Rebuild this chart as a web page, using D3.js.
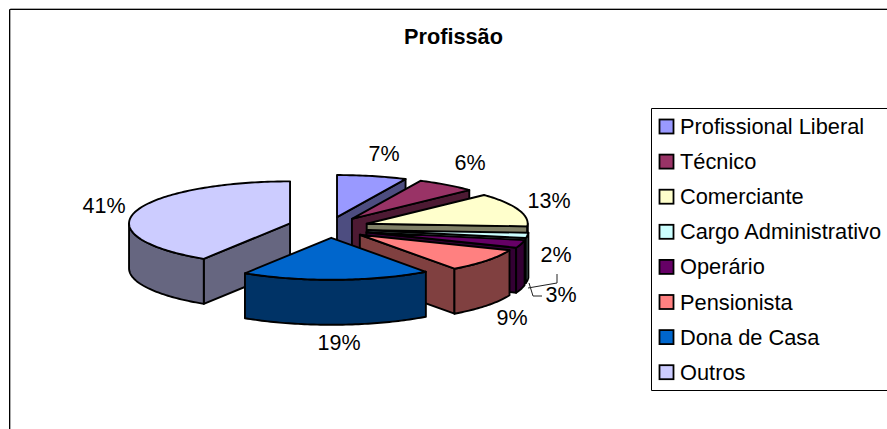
<!DOCTYPE html>
<html><head><meta charset="utf-8">
<script src="https://cdn.jsdelivr.net/npm/d3@7"></script>
<style>html,body{margin:0;padding:0;background:#fff}svg{display:block}text{font-family:"Liberation Sans",Arial,sans-serif;fill:#000}</style>
</head><body><script>
const categories=["Profissional Liberal","Técnico","Comerciante","Cargo Administrativo","Operário","Pensionista","Dona de Casa","Outros"];
const values=[7,6,13,2,3,9,19,41];
const topColors=["#9999FF","#993366","#FFFFCC","#CCFFFF","#660066","#FF8080","#0066CC","#CCCCFF"];
const title="Profissão";

const W=887,H=429,rx=161,ry=42,depth=45,cx=329,cy=227.3,ex=39,ey=10.5;
const nudgeY=[0,0,0,1.5,2,1,0,-1];
const nudgeX=[-0.5,0,1,0,0,0,1,-1.5];
const svg=d3.select("body").append("svg").attr("width",W).attr("height",H);
svg.append("rect").attr("width",W).attr("height",H).attr("fill","#fff");
svg.append("path").attr("d","M10.5,429V8.5H887").attr("fill","none").attr("stroke","#aaa");
svg.append("path").attr("d","M9.5,429V9.5H887").attr("fill","none").attr("stroke","#000");
svg.append("text").attr("x",453.5).attr("y",44).attr("text-anchor","middle").attr("font-weight","bold").attr("font-size",21.7).text(title);

const slices=d3.pie().value(d=>d).sort(null)(values).map((s,i)=>({...s,i}));
const xS=d3.scaleLinear().domain([-1,1]).range([-rx,rx]);
const yS=d3.scaleLinear().domain([-1,1]).range([-ry,ry]);
function pt(s,a,r=1,dz=0){const m=(s.startAngle+s.endAngle)/2;
  return [cx+nudgeX[s.i]+ex*Math.sin(m)+xS(r*Math.sin(a)),cy+nudgeY[s.i]-ey*Math.cos(m)-yS(r*Math.cos(a))+dz];}
function arcPts(s,a0,a1,dz){const n=Math.max(2,Math.ceil(Math.abs(a1-a0)/0.02));return d3.range(n+1).map(k=>pt(s,a0+(a1-a0)*k/n,1,dz));}
const line=d3.line();
const draw=(pts,fill)=>svg.append("path").attr("d",line(pts)+"Z").attr("fill",fill).attr("stroke","#000").attr("stroke-width",1.9).attr("stroke-linejoin","round");
const wallColor=c=>{const r=d3.rgb(c);return d3.rgb(r.r/2,r.g/2,r.b/2).formatHex();};

const order=[7,0,1,2,3,4,5,6];
order.forEach(i=>{const s=slices[i],a0=s.startAngle,a1=s.endAngle,w=wallColor(topColors[i]),c=pt(s,0,0);
  const radial=a=>{const e=pt(s,a);draw([c,e,[e[0],e[1]+depth],[c[0],c[1]+depth]],w);};
  if(a0>Math.PI) radial(a0);
  if(a1<Math.PI) radial(a1);
  const f0=Math.max(a0,Math.PI/2),f1=Math.min(a1,Math.PI*1.5);
  if(f1>f0) draw(arcPts(s,f0,f1,0).concat(arcPts(s,f1,f0,depth)),w);
  draw([c].concat(arcPts(s,a0,a1,0)),topColors[i]);
});

const labelX=[384,470,549,556,561,512,339,104],labelY=[161,170,208,262,302,325,350,213];
values.forEach((v,i)=>svg.append("text").attr("x",labelX[i]).attr("y",labelY[i]).attr("text-anchor","middle").attr("font-size",21.5).text(v+"%"));
[[[557,274],[557,283],[528,288]],[[529,283],[533,296],[542,296]]].forEach(p=>svg.append("path").attr("d",line(p)).attr("fill","none").attr("stroke","#222").attr("stroke-width",1));

const lx=652,lh=35.1;
svg.append("path").attr("d","M887,108.5H651.5V390.5H887").attr("fill","#fff").attr("stroke","#000").attr("stroke-width",1);
categories.forEach((c,i)=>{const y=127+i*lh;
  svg.append("rect").attr("x",lx+7.5).attr("y",y-7.5).attr("width",14).attr("height",14).attr("fill",topColors[i]).attr("stroke","#000").attr("stroke-width",1.8);
  svg.append("text").attr("x",680).attr("y",y+7).attr("font-size",21.8).text(c);
});
</script></body></html>
